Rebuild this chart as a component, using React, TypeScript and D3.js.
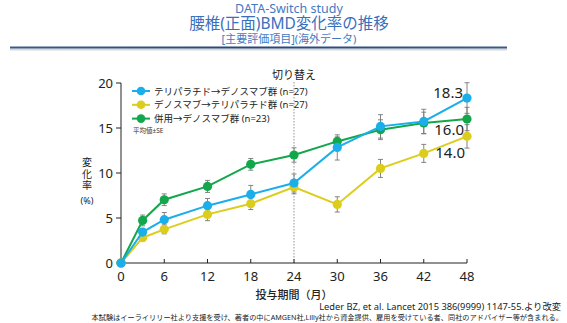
import React from "react";
import * as d3 from "d3";

const months = [0, 3, 6, 12, 18, 24, 30, 36, 42, 48];
const xTicks = [0, 6, 12, 18, 24, 30, 36, 42, 48];
const yTicks = [0, 5, 10, 15, 20];

const blueVals = [0, 3.44, 4.81, 6.37, 7.62, 8.89, 12.84, 15.18, 15.73, 18.33];
const blueSE = [0, 0.4, 0.8, 0.8, 1.0, 1.0, 1.4, 1.3, 1.35, 1.7];
const yellowVals = [0, 2.81, 3.74, 5.4, 6.59, 8.44, 6.51, 10.51, 12.18, 14.07];
const yellowSE = [0, 0.35, 0.5, 0.7, 0.65, 0.75, 0.85, 1.0, 1.0, 1.3];
const greenVals = [0, 4.73, 7.03, 8.51, 10.96, 12.0, 13.51, 14.81, 15.56, 16.0];
const greenSE = [0, 0.6, 0.65, 0.67, 0.65, 0.8, 0.5, 1.1, 1.2, 1.3];

const seriesNames = [
  "テリパラチド→デノスマブ群 (n=27)",
  "デノスマブ→テリパラチド群 (n=27)",
  "併用→デノスマブ群 (n=23)",
];
const endLabels = ["18.3", "14.0", "16.0"];

const BLUE = "#1aaeea";
const YELLOW = "#dccd1c";
const GREEN = "#12a74a";

export default function App() {
  const font = "'Noto Sans', 'Noto Sans CJK JP', sans-serif";
  const x = d3.scaleLinear().domain([0, 48]).range([121, 467]);
  const y = d3.scaleLinear().domain([0, 20]).range([263, 83]);
  const line = d3
    .line<number>()
    .x((_, i) => x(months[i]))
    .y((d) => y(d));

  const series = [
    { vals: greenVals, se: greenSE, color: GREEN },
    { vals: yellowVals, se: yellowSE, color: YELLOW },
    { vals: blueVals, se: blueSE, color: BLUE },
  ];
  const legend = [
    { name: seriesNames[0], color: BLUE },
    { name: seriesNames[1], color: YELLOW },
    { name: seriesNames[2], color: GREEN },
  ];

  return (
    <svg
      width={567}
      height={323}
      style={{ position: "absolute", left: 0, top: 0, background: "#fff" }}
      fontFamily={font}
    >
      <defs>
        <linearGradient id="hdr" x1="0" x2="1" y1="0" y2="0">
          <stop offset="0" stopColor="#3a5b8f" />
          <stop offset="0.5" stopColor="#27467a" />
          <stop offset="1" stopColor="#3a5b8f" />
        </linearGradient>
      </defs>
      {/* Title */}
      <text x={289} y={13} textAnchor="middle" fontSize={12.5} fill="#4479c2">
        DATA-Switch study
      </text>
      <text x={289} y={29} textAnchor="middle" fontSize={15.5} fill="#3a6fbd">
        腰椎(正面)BMD変化率の推移
      </text>
      <text x={289} y={43} textAnchor="middle" fontSize={11} fill="#4479c2">
        [主要評価項目](海外データ)
      </text>
      <rect x={10} y={48.5} width={497} height={2} fill="#d8d8d8" />
      <rect x={10} y={46.5} width={497} height={2} fill="url(#hdr)" />

      {/* switch line */}
      <line x1={x(24)} x2={x(24)} y1={82} y2={263} stroke="#777" strokeWidth={0.8} strokeDasharray="1.5,1.5" />
      <text x={x(24)} y={79} textAnchor="middle" fontSize={11} fill="#222">
        切り替え
      </text>

      {/* axes */}
      <line x1={121} x2={121} y1={y(20)} y2={263} stroke="#222" strokeWidth={1} />
      <line x1={121} x2={467} y1={263} y2={263} stroke="#222" strokeWidth={1} />
      {yTicks.map((t) => (
        <g key={"y" + t}>
          <line x1={116} x2={121} y1={y(t)} y2={y(t)} stroke="#222" />
          <text x={113} y={y(t) + 4.5} textAnchor="end" fontSize={13} fill="#222">
            {t}
          </text>
        </g>
      ))}
      {xTicks.map((t) => (
        <g key={"x" + t}>
          <line x1={x(t)} x2={x(t)} y1={263} y2={259} stroke="#222" />
          <text x={x(t)} y={281} textAnchor="middle" fontSize={13} fill="#222">
            {t}
          </text>
        </g>
      ))}
      <text x={x(24)} y={299} textAnchor="middle" fontSize={11} fill="#222" fontWeight={500}>
        投与期間（月）
      </text>
      {["変", "化", "率"].map((c, i) => (
        <text key={c} x={87} y={166 + i * 11.5} textAnchor="middle" fontSize={10} fill="#222">
          {c}
        </text>
      ))}
      <text x={87} y={204} textAnchor="middle" fontSize={9} fill="#222">
        (%)
      </text>

      {/* error bars */}
      {series.map((s, si) =>
        s.vals.map((v, i) =>
          s.se[i] > 0 ? (
            <g key={`e${si}-${i}`} stroke="#777" strokeWidth={0.9}>
              <line x1={x(months[i])} x2={x(months[i])} y1={y(v + s.se[i])} y2={y(v - s.se[i])} />
              <line x1={x(months[i]) - 2.5} x2={x(months[i]) + 2.5} y1={y(v + s.se[i])} y2={y(v + s.se[i])} />
              <line x1={x(months[i]) - 2.5} x2={x(months[i]) + 2.5} y1={y(v - s.se[i])} y2={y(v - s.se[i])} />
            </g>
          ) : null
        )
      )}

      {/* lines and points */}
      {series.map((s, si) => (
        <g key={"s" + si}>
          <path d={line(s.vals) || ""} fill="none" stroke={s.color} strokeWidth={2} />
          {s.vals.map((v, i) => (
            <circle key={i} cx={x(months[i])} cy={y(v)} r={4.6} fill={s.color} />
          ))}
        </g>
      ))}

      {/* end labels */}
      <text x={463} y={y(blueVals[9])} textAnchor="end" fontSize={15} fill="#222">
        {endLabels[0]}
      </text>
      <text x={464} y={y(greenVals[9]) + 16} textAnchor="end" fontSize={15} fill="#222">
        {endLabels[2]}
      </text>
      <text x={465} y={y(yellowVals[9]) + 22} textAnchor="end" fontSize={15} fill="#222">
        {endLabels[1]}
      </text>

      {/* legend */}
      {legend.map((l, i) => (
        <g key={"l" + i}>
          <line x1={132} x2={150} y1={91 + i * 13.8} y2={91 + i * 13.8} stroke={l.color} strokeWidth={2} />
          <circle cx={141} cy={91 + i * 13.8} r={4.3} fill={l.color} />
          <text x={154} y={94.5 + i * 13.8} fontSize={9.5} fill="#222">
            {l.name}
          </text>
        </g>
      ))}
      <text x={133} y={133} fontSize={6.5} fill="#333">
        平均値±SE
      </text>

      {/* footer */}
      <text x={561} y={310} textAnchor="end" fontSize={9.3} fill="#222">
        Leder BZ, et al. Lancet 2015 386(9999) 1147-55.より改変
      </text>
      <text x={563} y={320} textAnchor="end" fontSize={7.2} fill="#222">
        本試験はイーライリリー社より支援を受け、著者の中にAMGEN社,Lilly社から資金提供、雇用を受けている者、同社のアドバイザー等が含まれる。
      </text>
    </svg>
  );
}
